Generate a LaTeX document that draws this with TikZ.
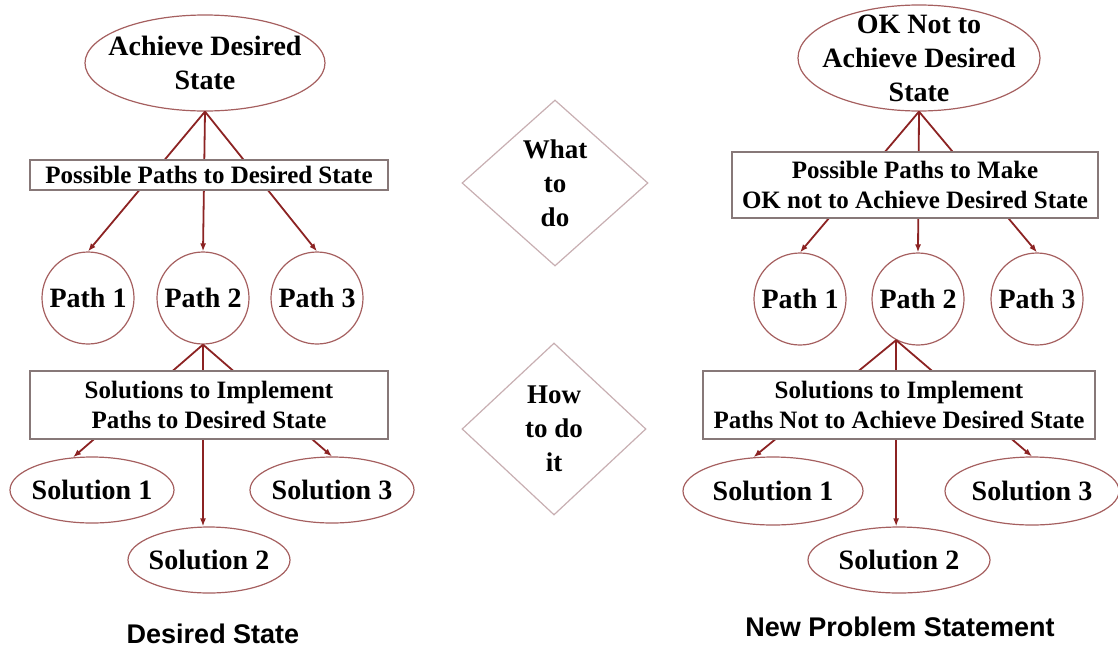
\documentclass[tikz,border=0pt]{standalone}
\usepackage{fontspec}
\setmainfont{Liberation Serif}
\setsansfont{Liberation Sans}
\usetikzlibrary{arrows.meta, shapes.geometric}
\definecolor{linkred}{RGB}{140,35,35}
\definecolor{shapered}{RGB}{165,95,95}
\definecolor{boxgray}{RGB}{135,120,120}
\definecolor{diagray}{RGB}{200,175,178}

\begin{document}
\begin{tikzpicture}[x=1pt, y=-1pt, ->, >={Latex[length=8pt,width=6pt]}, draw=linkred, line width=1.8pt]
				\tikzstyle{goal}=[ellipse, draw=shapered, line width=1.2pt, inner sep=-20pt, align=center, font=\bfseries\fontsize{28}{34}\selectfont]
				\tikzstyle{path node}=[circle, draw=shapered, line width=1.2pt, minimum size=92pt, inner sep=0pt, font=\bfseries\fontsize{28}{34}\selectfont]
				\tikzstyle{solution}=[goal, minimum height=66pt]
				\tikzstyle{stage}=[rectangle, draw=boxgray, line width=1.2pt, fill=white, inner sep=0pt, align=center, font=\bfseries\fontsize{25}{30}\selectfont]
				\tikzstyle{question}=[diamond, draw=diagray, line width=1.2pt, inner sep=0pt, aspect=1.1, minimum width=186pt, minimum height=166pt, align=center, font=\bfseries\fontsize{27}{34}\selectfont]
				\tikzstyle{caption}=[font=\sffamily\bfseries\fontsize{27}{32}\selectfont]
				
				\useasboundingbox (0,0) rectangle (1118,648);
				
				% Desired state
				\node[goal, minimum width=240pt, minimum height=96pt] (A) at (205,63) {Achieve Desired\\State};
				\foreach \name / \x in {1/88,2/203,3/317}
				\node[path node] (P-\name) at (\x,298) {Path \name};
				\node[solution, minimum width=164pt] (S-1) at (92,490) {Solution 1};
				\node[solution, minimum width=162pt] (S-2) at (209,560) {Solution 2};
				\node[solution, minimum width=164pt] (S-3) at (332,490) {Solution 3};
				
				% Edges A -> P
				\foreach \dest in {1,2,3}
				\path (A.south) edge (P-\dest.north);
				
				% Edges P-2 -> S
				\path (P-2.south) edge (S-1.120);
				\path (P-2.south) edge (P-2.south |- S-2.north);
				\path (P-2.south) edge (S-3.north);
				
				\node[stage, minimum width=358pt, minimum height=30pt] (paths) at (209,175) {Possible Paths to Desired State};
				\node[stage, minimum width=358pt, minimum height=68pt] (impl) at (209,405) {Solutions to Implement\\Paths to Desired State};
				
				% Questions
				\node[question] (what) at (555,183) {What\\to\\do};
				\node[question, minimum width=184pt, minimum height=172pt] (how) at (554,429) {How\\to do\\it};
				
				% New problem statement
				\node[goal, minimum width=242pt, minimum height=106pt] (B) at (919,58) {OK Not to\\Achieve Desired\\State};
				\foreach \name / \x in {1/800,2/918,3/1037}
				\node[path node] (Q-\name) at (\x,299) {Path \name};
				\node[solution, minimum width=180pt, minimum height=68pt] (T-1) at (773,491) {Solution 1};
				\node[solution, minimum width=182pt] (T-2) at (899,560) {Solution 2};
				\node[solution, minimum width=174pt, minimum height=68pt] (T-3) at (1032,491) {Solution 3};
				
				% Edges B -> Q
				\foreach \dest in {1,2,3}
				\path (B.south) edge (Q-\dest.north);
				
				% Edges Q-2 -> T
				\path (Q-2.-118) edge (T-1.120);
				\path (Q-2.-118) edge (Q-2.-118 |- T-2.north);
				\path (Q-2.-118) edge (T-3.north);
				
				\node[stage, minimum width=366pt, minimum height=66pt] (okpaths) at (915,185) {Possible Paths to Make\\OK not to Achieve Desired State};
				\node[stage, minimum width=392pt, minimum height=68pt] (okimpl) at (899,405) {Solutions to Implement\\Paths Not to Achieve Desired State};
				
				% Captions
				\node[caption] (left caption) at (213,634) {Desired State};
				\node[caption] (right caption) at (900,627) {New Problem Statement};
			\end{tikzpicture}
\end{document}
